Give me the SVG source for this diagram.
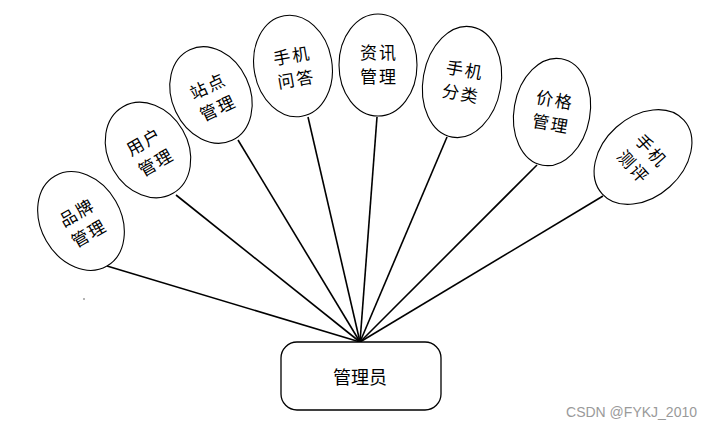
<svg xmlns="http://www.w3.org/2000/svg" width="713" height="428" viewBox="0 0 713 428">
<style>
.bg{fill:#ffffff}
.e{fill:#ffffff;stroke:#000000;stroke-width:1.1}
.t{font-family:"Noto Sans CJK SC","Noto Sans",sans-serif;font-size:17px;fill:#000000;text-anchor:middle;letter-spacing:2px}
.c line{stroke:#000000;stroke-width:1.6}
.b{fill:#ffffff;stroke:#000000;stroke-width:1.3}
.bt{font-family:"Noto Sans CJK SC","Noto Sans",sans-serif;font-size:18px;fill:#000000;text-anchor:middle}
.w{font-family:"Liberation Sans",Arial,sans-serif;font-size:14px;fill:#9a9a9a;text-anchor:end}
</style>
<rect class="bg" x="0" y="0" width="713" height="428"/>
<g id="connectors" class="c">
<line x1="107" y1="266" x2="360" y2="342"/>
<line x1="176" y1="195" x2="360" y2="342"/>
<line x1="238" y1="140" x2="360" y2="342"/>
<line x1="308" y1="117" x2="360" y2="342"/>
<line x1="377" y1="117" x2="360" y2="342"/>
<line x1="447" y1="137" x2="360" y2="342"/>
<line x1="537" y1="165" x2="360" y2="342"/>
<line x1="603" y1="196" x2="360" y2="342"/>
</g>
<g id="n-brand" transform="translate(81,221) rotate(-30)">
<ellipse class="e" cx="0" cy="0" rx="40" ry="52"/>
<text class="t" x="1" y="-3">品牌</text>
<text class="t" x="1" y="21">管理</text>
</g>
<g id="n-user" transform="translate(148,150) rotate(-30)">
<ellipse class="e" cx="0" cy="0" rx="40" ry="50"/>
<text class="t" x="1" y="-3">用户</text>
<text class="t" x="1" y="21">管理</text>
</g>
<g id="n-site" transform="translate(211,95) rotate(-25)">
<ellipse class="e" cx="0" cy="0" rx="39" ry="50"/>
<text class="t" x="1" y="-3">站点</text>
<text class="t" x="1" y="21">管理</text>
</g>
<g id="n-qa" transform="translate(293,66) rotate(-10)">
<ellipse class="e" cx="0" cy="0" rx="39" ry="51"/>
<text class="t" x="1" y="-4">手机</text>
<text class="t" x="1" y="20">问答</text>
</g>
<g id="n-news" transform="translate(378,65)">
<ellipse class="e" cx="0" cy="0" rx="39" ry="51"/>
<text class="t" x="1" y="-6">资讯</text>
<text class="t" x="1" y="18">管理</text>
</g>
<g id="n-category" transform="translate(462,82) rotate(10)">
<ellipse class="e" cx="0" cy="0" rx="39" ry="56"/>
<text class="t" x="1" y="-6">手机</text>
<text class="t" x="1" y="18">分类</text>
</g>
<g id="n-price" transform="translate(552,112) rotate(10)">
<ellipse class="e" cx="0" cy="0" rx="38" ry="54"/>
<text class="t" x="1" y="-6">价格</text>
<text class="t" x="1" y="18">管理</text>
</g>
<g id="n-review" transform="translate(643,157) rotate(48)">
<ellipse class="e" cx="0" cy="0" rx="40" ry="55"/>
<text class="t" x="1" y="-4">手机</text>
<text class="t" x="1" y="20">测评</text>
</g>
<g id="n-admin">
<rect class="b" x="281" y="342" width="160" height="68" rx="16" ry="16"/>
<text class="bt" x="360" y="384">管理员</text>
</g>
<circle cx="84" cy="299" r="0.8" fill="#555555"/>
<text class="w" x="697" y="417">CSDN @FYKJ_2010</text>
</svg>
